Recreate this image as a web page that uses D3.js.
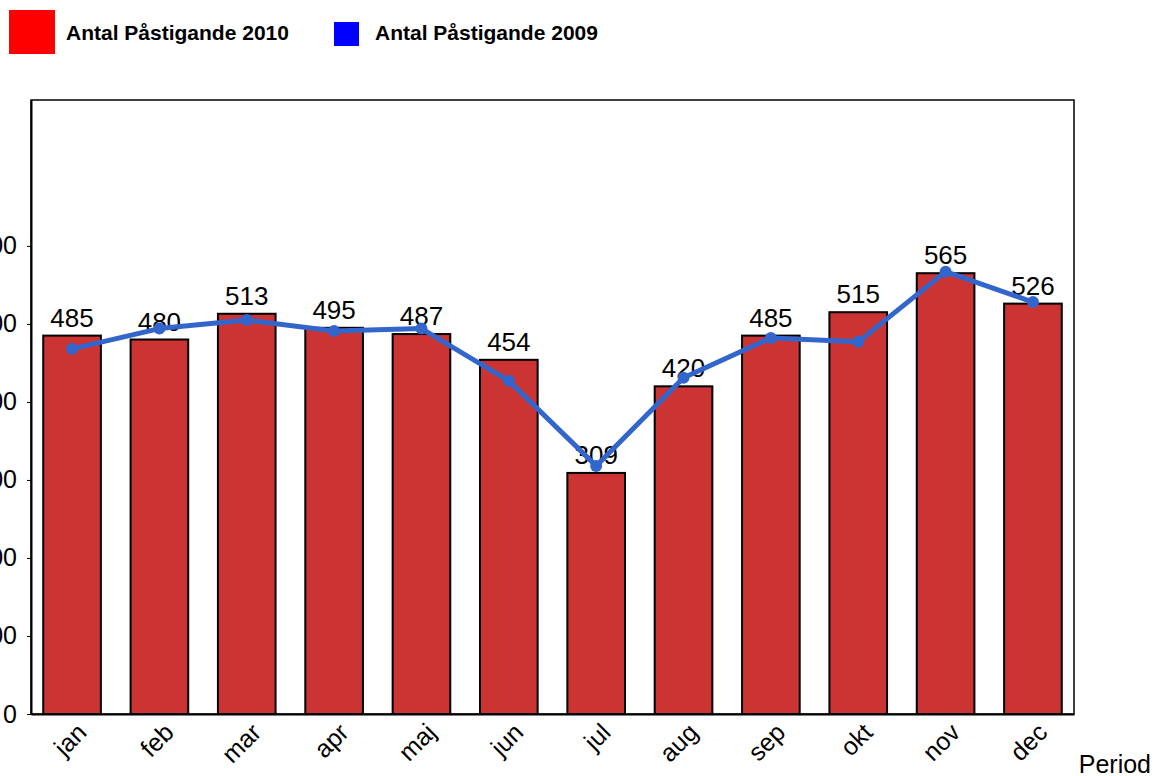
<!DOCTYPE html>
<html>
<head>
<meta charset="utf-8">
<script src="https://cdn.jsdelivr.net/npm/d3@7"></script>
<style>
  body { margin: 0; background: #fff; }
  svg { display: block; font-family: "Liberation Sans", Arial, sans-serif; }
</style>
</head>
<body>
<svg id="chart" width="1156" height="776"></svg>
<script>
const months = ["jan","feb","mar","apr","maj","jun","jul","aug","sep","okt","nov","dec"];
const values2010 = [485,480,513,495,487,454,309,420,485,515,565,526];
const values2009 = [468,494,505,491,494,427,318,431,482,477,567,528];
const yTicks = [0,100,200,300,400,500,600];
const seriesNames = ["Antal Påstigande 2010","Antal Påstigande 2009"];
const seriesColors = ["#ff0000","#0000ff"];

const svg = d3.select("#chart");
const mLeft = 31, mRight = 1074, mTop = 100, mBottom = 714;

const x = d3.scaleBand().domain(months).range([mLeft, mRight]).paddingInner(0.34).paddingOuter(0.14);
const y = d3.scaleLinear().domain([0, 787]).range([mBottom, mTop]);

// frame
svg.append("rect").attr("x", mLeft).attr("y", mTop).attr("width", mRight-mLeft).attr("height", mBottom-mTop)
  .attr("fill", "none").attr("stroke", "#000").attr("stroke-width", 1.5);

// bars
svg.append("g").selectAll("rect").data(months).join("rect")
  .attr("x", d => x(d)).attr("width", x.bandwidth())
  .attr("y", (d,i) => y(values2010[i])).attr("height", (d,i) => y(0) - y(values2010[i]))
  .attr("fill", "#cc3333").attr("stroke", "#000").attr("stroke-width", 2);

// bar labels
svg.append("g").selectAll("text").data(months).join("text")
  .attr("x", d => x(d) + x.bandwidth()/2).attr("y", (d,i) => y(values2010[i]) - 9)
  .attr("text-anchor", "middle").attr("font-size", 26).attr("fill", "#000")
  .text((d,i) => values2010[i]);

// line 2009
const line = d3.line().x((d,i) => x(months[i]) + x.bandwidth()/2).y(d => y(d));
svg.append("path").datum(values2009).attr("d", line)
  .attr("fill", "none").attr("stroke", "#3366cc").attr("stroke-width", 5).attr("stroke-linejoin", "round");
svg.append("g").selectAll("circle").data(values2009).join("circle")
  .attr("cx", (d,i) => x(months[i]) + x.bandwidth()/2).attr("cy", d => y(d)).attr("r", 6)
  .attr("fill", "#3366cc");

// y axis
const yAxis = svg.append("g").attr("transform", `translate(${mLeft},0)`)
  .call(d3.axisLeft(y).tickValues(yTicks).tickSizeInner(4).tickSizeOuter(0).tickPadding(10).tickFormat(d3.format("d")));
yAxis.select(".domain").attr("stroke-width", 2);
yAxis.selectAll("text").attr("font-size", 25).attr("font-family", "Liberation Sans, Arial, sans-serif").attr("fill", "#000");

// x axis
const xAxis = svg.append("g").attr("transform", `translate(0,${mBottom})`)
  .call(d3.axisBottom(x).tickSize(0).tickPadding(0));
xAxis.select(".domain").attr("stroke-width", 2);
xAxis.selectAll("text")
  .attr("font-size", 25).attr("font-family", "Liberation Sans, Arial, sans-serif").attr("fill", "#000")
  .attr("text-anchor", "end").attr("dy", 0).attr("y", 0)
  .attr("transform", "translate(16,20) rotate(-45)");

svg.append("text").attr("x", 1151).attr("y", 773).attr("text-anchor", "end")
  .attr("font-size", 25).text("Period");

// legend
const legend = svg.append("g");
legend.append("rect").attr("x", 9).attr("y", 10).attr("width", 46).attr("height", 44).attr("fill", seriesColors[0]);
legend.append("text").attr("x", 66).attr("y", 40).attr("font-size", 21).attr("font-weight", "bold").text(seriesNames[0]);
legend.append("rect").attr("x", 334).attr("y", 22).attr("width", 25).attr("height", 24).attr("fill", seriesColors[1]);
legend.append("text").attr("x", 375).attr("y", 40).attr("font-size", 21).attr("font-weight", "bold").text(seriesNames[1]);
</script>
</body>
</html>
